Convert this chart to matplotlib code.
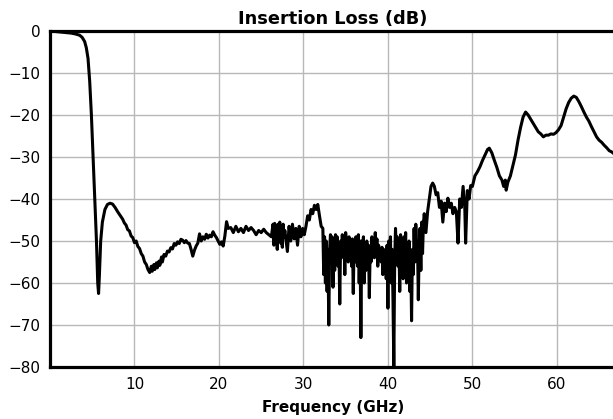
import matplotlib
matplotlib.use("Agg")
import matplotlib.pyplot as plt

freq_ghz = [
    0.0, 0.5, 1.0, 1.5, 2.0, 2.5, 3.0, 3.5, 3.8, 4.1,
    4.3, 4.5, 4.7, 4.9, 5.1, 5.3, 5.5, 5.65, 5.75, 5.85,
    6.0, 6.2, 6.5, 6.8, 7.1, 7.4, 7.7, 8.0, 8.2, 8.4,
    8.6, 8.8, 9.0, 9.2, 9.4, 9.6, 9.8, 10.0, 10.2, 10.4,
    10.6, 10.8, 11.0, 11.2, 11.4, 11.6, 11.8, 12.0, 12.1, 12.3,
    12.4, 12.6, 12.7, 12.9, 13.0, 13.2, 13.3, 13.5, 13.7, 13.9,
    14.1, 14.3, 14.5, 14.7, 14.9, 15.1, 15.3, 15.5, 15.7, 15.9,
    16.1, 16.3, 16.5, 16.7, 16.9, 17.1, 17.3, 17.5, 17.7, 17.9,
    18.1, 18.3, 18.5, 18.7, 18.9, 19.1, 19.3, 19.5, 19.7, 19.9,
    20.1, 20.3, 20.5, 20.7, 20.9, 21.1, 21.4, 21.7, 22.0, 22.3,
    22.6, 22.9, 23.2, 23.5, 23.8, 24.1, 24.4, 24.7, 25.0, 25.3,
    25.6, 25.9, 26.2, 26.4, 26.5, 26.6, 26.7, 26.8, 26.9, 27.0,
    27.1, 27.2, 27.3, 27.4, 27.5, 27.6, 27.7, 27.8, 28.1, 28.3,
    28.5, 28.7, 28.9, 29.1, 29.3, 29.5, 29.7, 29.9, 30.1, 30.3,
    30.5, 30.7, 30.9, 31.1, 31.3, 31.5, 31.7, 31.9, 32.1, 32.3,
    32.4, 32.5, 32.6, 32.7, 32.8, 32.9, 33.0, 33.1, 33.2, 33.3,
    33.4, 33.5, 33.6, 33.7, 33.8, 33.9, 34.0, 34.1, 34.2, 34.3,
    34.4, 34.5, 34.6, 34.7, 34.8, 34.9, 35.0, 35.1, 35.2, 35.3,
    35.4, 35.5, 35.6, 35.7, 35.8, 35.9, 36.0, 36.1, 36.2, 36.3,
    36.4, 36.5, 36.6, 36.7, 36.8, 36.9, 37.0, 37.1, 37.2, 37.3,
    37.4, 37.5, 37.6, 37.7, 37.8, 37.9, 38.0, 38.1, 38.2, 38.3,
    38.4, 38.5, 38.6, 38.7, 38.8, 38.9, 39.0, 39.1, 39.2, 39.3,
    39.4, 39.5, 39.6, 39.7, 39.8, 39.9, 40.0, 40.1, 40.2, 40.3,
    40.4, 40.5, 40.6, 40.7, 40.8, 40.9, 41.0, 41.1, 41.2, 41.3,
    41.4, 41.5, 41.6, 41.7, 41.8, 41.9, 42.0, 42.1, 42.2, 42.3,
    42.4, 42.5, 42.6, 42.7, 42.8, 42.9, 43.0, 43.1, 43.2, 43.3,
    43.4, 43.5, 43.6, 43.7, 43.8, 43.9, 44.0, 44.1, 44.2, 44.3,
    44.5, 44.7, 44.9, 45.1, 45.3, 45.5, 45.7, 45.9, 46.1, 46.3,
    46.5, 46.7, 46.9, 47.1, 47.3, 47.5, 47.7, 47.9, 48.1, 48.3,
    48.5, 48.7, 48.9, 49.1, 49.2, 49.4, 49.6, 49.8, 50.0, 50.3,
    50.6, 50.9, 51.2, 51.5, 51.8, 52.0, 52.3, 52.6, 52.9, 53.2,
    53.5, 53.7, 53.9, 54.0, 54.2, 54.5, 54.8, 55.1, 55.4, 55.7,
    56.0, 56.3, 56.6, 56.9, 57.2, 57.5, 57.8, 58.1, 58.4, 58.7,
    59.0, 59.3, 59.6, 59.9, 60.2, 60.5, 60.8, 61.1, 61.4, 61.7,
    62.0, 62.3, 62.6, 62.9, 63.2, 63.5, 63.8, 64.1, 64.4, 64.7,
    65.0, 65.3, 65.6, 65.9, 66.2, 66.5, 66.8, 67.0,
]

loss_db = [
    0.0, -0.1, -0.2, -0.3, -0.4, -0.5, -0.7, -1.0, -1.5, -2.5,
    -4.0, -6.5, -12.0, -20.0, -30.0, -40.0, -50.0, -60.0, -62.5, -58.0,
    -50.0, -45.5, -42.5, -41.3, -41.0, -41.2, -42.0, -43.0, -43.6, -44.2,
    -44.8, -45.7, -46.2, -47.3, -47.6, -48.8, -49.2, -50.4, -50.0, -51.3,
    -51.8, -53.0, -53.6, -55.0, -55.6, -56.8, -57.5, -56.0, -57.2, -55.6,
    -56.8, -55.2, -56.4, -54.8, -55.8, -53.8, -55.0, -53.2, -53.6, -52.4,
    -52.6, -51.6, -51.9, -50.6, -51.0, -50.2, -50.6, -49.6, -49.8, -50.4,
    -49.9, -50.5, -50.6, -52.0, -53.6, -52.2, -51.2, -50.5, -48.3, -50.0,
    -49.0, -49.6, -48.4, -49.3, -48.6, -49.0, -47.8, -48.6, -49.2, -50.0,
    -50.8, -50.2, -51.2, -48.8, -45.4, -47.0, -46.8, -48.0, -46.5, -47.8,
    -47.0, -48.0, -46.5, -47.5, -46.8, -47.5, -48.5, -47.5, -48.0, -47.2,
    -48.0, -48.5, -49.0, -46.0, -51.0, -45.8, -50.0, -46.5, -52.0, -46.0,
    -49.0, -45.5, -50.5, -47.0, -51.5, -46.0, -49.0, -47.5, -52.5, -46.5,
    -50.0, -46.0, -49.5, -47.0, -51.0, -46.5, -49.0, -47.0, -48.5, -46.5,
    -44.0, -45.0, -42.5, -43.5, -41.5, -42.5, -41.3, -44.0, -46.5, -47.0,
    -58.0, -49.0, -60.0, -50.0, -62.0, -52.0, -70.0, -52.0, -48.5, -55.0,
    -49.0, -61.0, -50.0, -57.0, -48.5, -53.0, -49.0, -56.0, -51.0, -65.0,
    -50.0, -54.0, -48.5, -53.0, -50.0, -58.0, -48.0, -52.0, -50.5, -55.0,
    -49.0, -53.0, -51.0, -56.0, -49.5, -62.5, -50.0, -55.0, -49.0, -52.0,
    -56.0, -48.5, -60.0, -50.0, -73.0, -50.0, -53.0, -49.0, -60.0, -52.0,
    -57.0, -50.0, -54.0, -51.0, -63.5, -52.0, -55.0, -49.0, -52.0, -51.0,
    -54.0, -48.0, -52.0, -49.5, -56.0, -51.0, -53.0, -52.0, -55.0, -51.5,
    -58.0, -52.0, -55.0, -53.0, -59.0, -51.0, -66.0, -50.0, -57.0, -49.0,
    -60.0, -52.0, -64.0, -80.0, -55.0, -47.0, -53.0, -49.0, -56.0, -50.0,
    -62.0, -48.5, -54.0, -50.0, -59.0, -49.0, -53.0, -48.0, -60.0, -52.0,
    -56.0, -50.0, -62.0, -53.0, -69.0, -52.0, -58.0, -47.0, -55.0, -46.0,
    -51.0, -50.0, -64.0, -52.0, -47.0, -57.0, -45.5, -53.0, -46.0, -43.5,
    -48.0, -43.0, -40.0, -37.0, -36.2, -37.0, -39.0, -38.5, -42.0, -40.5,
    -45.5, -41.0, -43.0, -39.8, -42.0, -41.0, -43.5, -42.0, -43.0, -50.5,
    -40.0, -42.0, -37.0, -42.0, -50.5, -38.0, -40.0, -36.8, -37.0, -34.5,
    -33.5, -32.3, -30.8, -29.5, -28.2, -27.9, -29.0, -30.8, -32.5, -34.5,
    -35.5, -37.0, -35.5, -37.9, -36.0, -34.5, -32.0, -29.5, -26.0, -23.0,
    -20.5, -19.3, -20.0, -21.0, -22.0, -23.0, -24.0, -24.5, -25.2, -24.8,
    -24.8, -24.5, -24.6, -24.2, -23.5, -22.5, -20.5, -18.5, -17.0, -16.0,
    -15.5, -15.8, -16.8, -18.0, -19.3, -20.5, -21.5, -22.8, -24.0, -25.2,
    -26.0, -26.5, -27.2, -27.8, -28.5, -28.8, -29.3, -29.7,
]

x_ticks = [10, 20, 30, 40, 50, 60]
y_ticks = [0, -10, -20, -30, -40, -50, -60, -70, -80]

fig = plt.figure(figsize=(6.13, 4.19), dpi=100)
ax = fig.add_axes([50 / 613, 52 / 419, 566 / 613, 336 / 419])

ax.plot(freq_ghz, loss_db, color="black", linewidth=2.2, solid_joinstyle="round", zorder=3)

ax.set_xlim(0, 67)
ax.set_ylim(-80, 0)
ax.set_xticks(x_ticks)
ax.set_yticks(y_ticks)
ax.grid(True, color="#b8b8b8", linewidth=1.0)
ax.set_axisbelow(True)
ax.tick_params(axis="both", length=0, pad=7, labelsize=11)
for side in ["left", "top", "bottom", "right"]:
    ax.spines[side].set_linewidth(2.3)
    ax.spines[side].set_color("black")

ax.set_title("Insertion Loss (dB)", fontsize=12.8, fontweight="bold", pad=5)
ax.set_xlabel("Frequency (GHz)", fontsize=11, fontweight="bold", labelpad=6)

fig.savefig("out.png", dpi=100)
